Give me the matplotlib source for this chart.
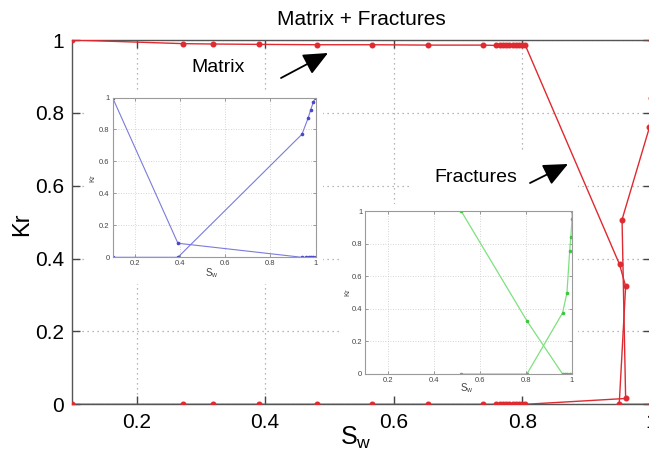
import matplotlib
matplotlib.use("Agg")
import matplotlib.pyplot as plt
from matplotlib.patches import Rectangle

plt.rcParams['font.family'] = ['Liberation Sans', 'DejaVu Sans']
plt.rcParams['mathtext.default'] = 'regular'

# ---------------- data ----------------
cluster = [0.760, 0.765, 0.770, 0.775, 0.780, 0.785, 0.790, 0.795, 0.800, 0.805]

# main plot: combined matrix + fractures
sw_oil = [0.10, 0.272, 0.319, 0.390, 0.480, 0.567, 0.654, 0.739] + cluster + [0.9515, 0.961, 0.951, 1.0]
kr_oil = [1.000, 0.990, 0.989, 0.988, 0.987, 0.987, 0.986, 0.986] + [0.985] * 10 + [0.384, 0.324, 0.0, 0.0]

sw_wat = [0.10, 0.272, 0.319, 0.390, 0.480, 0.567, 0.654, 0.739] + cluster + [0.961, 0.9554, 0.998, 1.0, 1.0]
kr_wat = [0.0] * 8 + [0.0] * 10 + [0.016, 0.507, 0.76, 0.84, 1.0]

# matrix inset (blue)
m_sw1 = [0.10, 0.39, 0.94, 0.96, 0.97, 0.98, 0.99, 1.00]
m_kr1 = [1.00, 0.088, 0.0, 0.0, 0.0, 0.0, 0.0, 0.0]
m_sw2 = [0.10, 0.39, 0.94, 0.967, 0.978, 0.99, 1.00]
m_kr2 = [0.0, 0.0, 0.77, 0.87, 0.92, 0.97, 1.00]

# fractures inset (green)
f_sw1 = [0.518, 0.804, 0.959, 0.97, 0.98, 0.99, 1.00]
f_kr1 = [1.00, 0.326, 0.0, 0.0, 0.0, 0.0, 0.0]
f_sw2 = [0.518, 0.804, 0.959, 0.978, 0.99, 0.995, 1.00, 1.00]
f_kr2 = [0.0, 0.0, 0.375, 0.498, 0.756, 0.84, 0.95, 1.00]

xticks = [0.2, 0.4, 0.6, 0.8, 1.0]
xticklabels = ['0.2', '0.4', '0.6', '0.8', '1']
yticks = [0, 0.2, 0.4, 0.6, 0.8, 1.0]
yticklabels = ['0', '0.2', '0.4', '0.6', '0.8', '1']

# ---------------- layout helpers ----------------
W, H = 649, 451
fig = plt.figure(figsize=(W / 100, H / 100), dpi=100)


def fb(l, t, r, b):
    return [l / W, 1 - b / H, (r - l) / W, (b - t) / H]


def fp(x, y):
    return (x / W, 1 - y / H)


# ---------------- main axes ----------------
ax = fig.add_axes(fb(72.4, 40, 650.7, 404.3))
ax.set_axisbelow(True)
red = '#de2a30'
ax.plot(sw_oil, kr_oil, '-', color=red, lw=1.0, marker='o', ms=3.3, mfc=red, mec=red, zorder=3)
ax.plot(sw_wat, kr_wat, '-', color=red, lw=1.0, marker='o', ms=3.3, mfc=red, mec=red, zorder=3)

ax.set_xlim(0.1, 1.0)
ax.set_ylim(0, 1.0)
ax.set_xticks(xticks)
ax.set_xticklabels(xticklabels)
ax.set_yticks(yticks)
ax.set_yticklabels(yticklabels)
ax.tick_params(direction='in', length=6, width=1, colors='#444444', labelcolor='black',
               labelsize=15, top=True, right=True, pad=6)
ax.grid(True, linestyle=(0, (1, 3)), color='#a0a0a0', lw=0.9)
for s in ax.spines.values():
    s.set_color('#555555')
    s.set_linewidth(1.0)

ax.set_title('Matrix + Fractures', fontsize=15, pad=11)
fig.text(22 / W, 1 - 224 / H, 'Kr', rotation=90, fontsize=17, ha='center', va='center')
fig.text(356 / W, 1 - 438 / H, r'$S_w$', fontsize=18, ha='center', va='center')

# white backgrounds of the pasted insets / annotation
for (l, t, r, b) in [(84, 93, 323, 284), (339, 204, 578, 396), (412, 150, 578, 206)]:
    ax.add_patch(Rectangle((l / W, 1 - b / H), (r - l) / W, (b - t) / H,
                           transform=fig.transFigure, fc='white', ec='none', zorder=1))
ax.set_xlim(0.1, 1.0)
ax.set_ylim(0, 1.0)

# annotations
fig.text(*fp(218, 68), 'Matrix', fontsize=14, ha='center', va='center')
fig.text(*fp(476, 178), 'Fractures', fontsize=14, ha='center', va='center')
arrow = dict(arrowstyle='-|>,head_length=1.0,head_width=0.45', mutation_scale=15,
             color='black', lw=1.3, shrinkA=0, shrinkB=0)
ax.annotate('', xy=fp(328, 53), xycoords='figure fraction',
            xytext=fp(281, 78), textcoords='figure fraction', arrowprops=arrow)
ax.annotate('', xy=fp(568, 164), xycoords='figure fraction',
            xytext=fp(530, 183), textcoords='figure fraction', arrowprops=arrow)


# ---------------- insets ----------------
def style_inset(a, lx, ly, sx, sy):
    a.set_xlim(0.1, 1.0)
    a.set_ylim(0, 1.0)
    a.set_xticks([0.2, 0.4, 0.6, 0.8, 1.0])
    a.set_xticklabels(['0.2', '0.4', '0.6', '0.8', '1'])
    a.set_yticks([0, 0.2, 0.4, 0.6, 0.8, 1.0])
    a.set_yticklabels(['0', '0.2', '0.4', '0.6', '0.8', '1'])
    a.tick_params(direction='in', length=2.5, width=0.6, colors='#888888', labelcolor='#444444',
                  labelsize=5.5, top=True, right=True, pad=2)
    a.grid(True, linestyle=(0, (1, 2)), color='#c8c8c8', lw=0.6)
    a.set_axisbelow(True)
    for s in a.spines.values():
        s.set_color('#9a9a9a')
        s.set_linewidth(0.8)
    fig.text(*fp(lx, ly), 'Kr', rotation=90, fontsize=5.5, color='#444444', ha='center', va='center')
    fig.text(*fp(sx, sy), r'$S_w$', fontsize=7, color='#444444', ha='center', va='center')


bi = fig.add_axes(fb(112.5, 97.5, 315.5, 257.3))
blue = '#7b7bdc'
bi.plot(m_sw1, m_kr1, '-', color=blue, lw=0.8, marker='o', ms=1.6, mfc='#4848c8', mec='#4848c8')
bi.plot(m_sw2, m_kr2, '-', color=blue, lw=0.8, marker='o', ms=1.6, mfc='#4848c8', mec='#4848c8')
style_inset(bi, 93, 178, 212, 273)

gi = fig.add_axes(fb(365, 211, 572, 374))
green = '#7fe07f'
gi.plot(f_sw1, f_kr1, '-', color=green, lw=0.9, marker='o', ms=1.6, mfc='#3cc83c', mec='#3cc83c')
gi.plot(f_sw2, f_kr2, '-', color=green, lw=0.9, marker='o', ms=1.6, mfc='#3cc83c', mec='#3cc83c')
style_inset(gi, 348, 292, 467, 388)

fig.savefig('out.png', dpi=100)
